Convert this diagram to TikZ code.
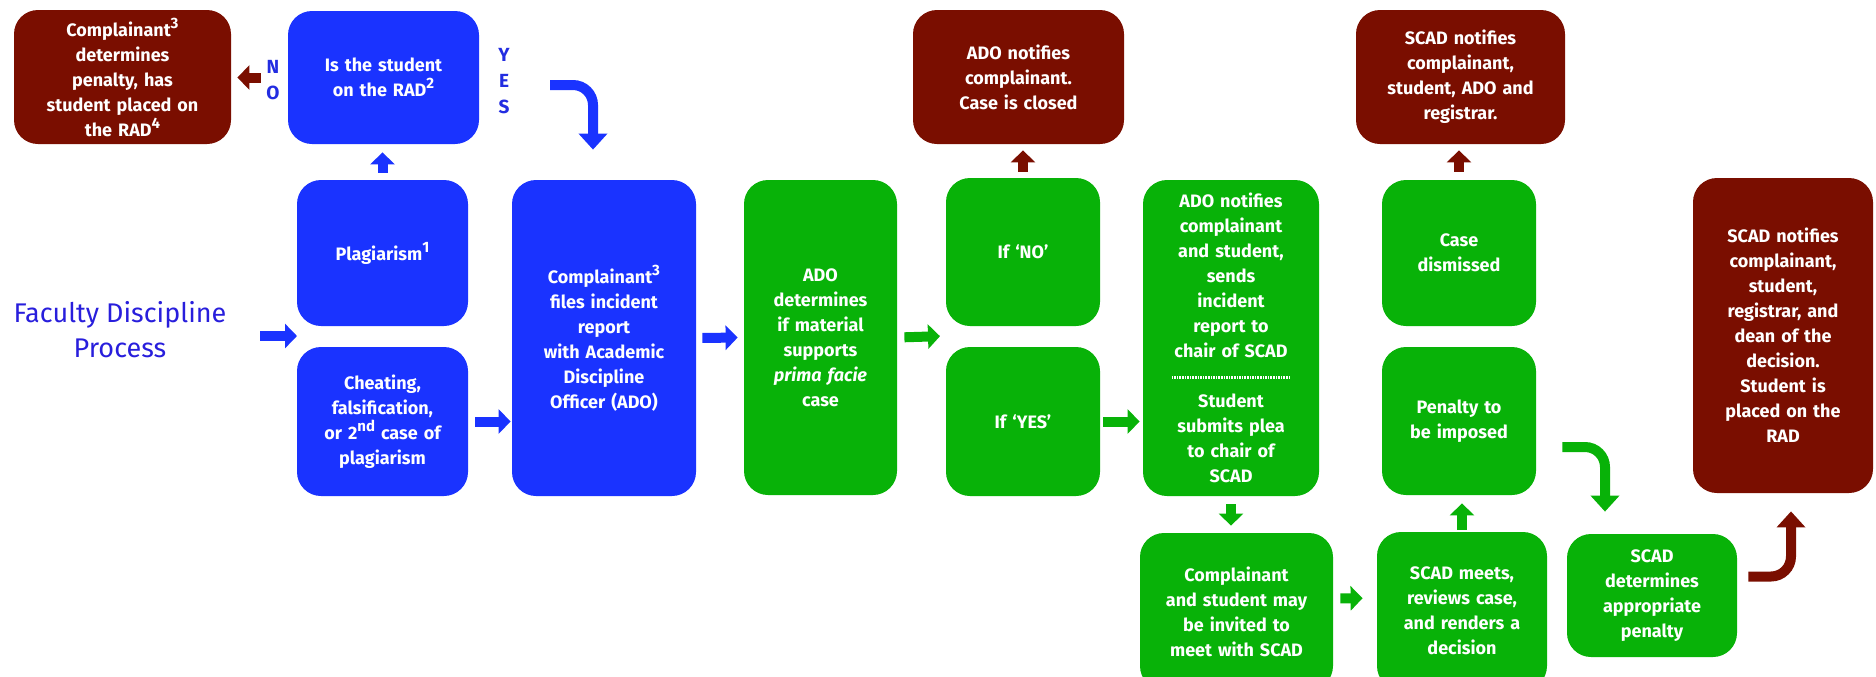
\documentclass[tikz,border=0pt]{standalone}
\usepackage{fontspec}
\setmainfont{Fira Sans}
\usepackage{xcolor}
\usetikzlibrary{arrows.meta}
\definecolor{procblue}{RGB}{26,51,255}
\definecolor{procgreen}{RGB}{8,178,8}
\definecolor{procbrown}{RGB}{122,14,0}
\definecolor{titleblue}{RGB}{40,30,220}
\definecolor{labelblue}{RGB}{35,45,225}
\tikzset{
    >={Triangle[length=6pt, width=12pt]} % Default arrow tip
}
\tikzstyle{procbox}=[
    rectangle,
    rounded corners = 12pt,
    text = white,
    align = center,
    inner sep = 0pt,
    font = \fontsize{9}{12.5}\selectfont\bfseries
]
\tikzstyle{bluebox}=[procbox, fill = procblue]
\tikzstyle{greenbox}=[procbox, fill = procgreen]
\tikzstyle{brownbox}=[procbox, fill = procbrown]
\tikzstyle{answer}=[
    text = labelblue,
    align = center,
    inner sep = 0pt,
    font = \fontsize{9.5}{13}\selectfont\bfseries
]
\tikzstyle{flowarrow}=[->, line width = 5pt]
\tikzstyle{turnarrow}=[
    flowarrow,
    rounded corners = 10pt,
    >={Triangle[length=8pt, width=14pt]}
]
% footnote marks, set large as in the handout
\newcommand{\refmark}[1]{\raisebox{4pt}{\fontsize{7.5}{7.5}\selectfont #1}}
% dotted rule between the two parts of the plea box
\newcommand{\plealine}{\makebox[60pt]{\leaders\hbox to 1.3pt{\hss\rule[2pt]{0.8pt}{1.2pt}\hss}\hfill}}

\begin{document}
\begin{tikzpicture}[x=0.5pt, y=-0.5pt]
    \useasboundingbox (0, 0) rectangle (1876, 676);

    \node [text = titleblue, align = center, font = \fontsize{13.5}{17.5}\selectfont] (title) at (120, 330) {Faculty Discipline\\Process};

    \node [brownbox, minimum width = 108.5pt, minimum height = 67pt, text width = 104pt] (selfpen) at (122.5, 77) {Complainant\refmark{3}\\determines\\penalty, has\\student placed on\\the RAD\refmark{4}};
    \node [bluebox, minimum width = 95.5pt, minimum height = 66.5pt, text width = 90pt] (onrad) at (383.5, 77.5) {Is the student\\on the RAD\refmark{2}};
    \node [answer] (nolabel) at (273, 80) {N\\O};
    \node [answer] (yeslabel) at (504, 81) {Y\\E\\S};

    \node [bluebox, minimum width = 85.5pt, minimum height = 73pt, text width = 80pt] (plag) at (382.5, 253) {Plagiarism\refmark{1}};
    \node [bluebox, minimum width = 85.5pt, minimum height = 74.5pt, text width = 82pt] (cheat) at (382.5, 421.5) {Cheating,\\falsification,\\or 2\refmark{nd} case of\\plagiarism};
    \node [bluebox, minimum width = 92pt, minimum height = 158pt, text width = 88pt] (files) at (604, 338) {Complainant\refmark{3}\\files incident\\report\\with Academic\\Discipline\\Officer (ADO)};

    \node [greenbox, minimum width = 76.5pt, minimum height = 157.5pt, text width = 72pt] (primafacie) at (820.5, 337.5) {ADO\\determines\\if material\\supports\\\textit{prima facie}\\case};
    \node [greenbox, minimum width = 77pt, minimum height = 74pt, text width = 70pt] (ifno) at (1023, 252) {If `NO'};
    \node [greenbox, minimum width = 77pt, minimum height = 74.5pt, text width = 70pt] (ifyes) at (1023, 421.5) {If `YES'};
    \node [brownbox, minimum width = 105.5pt, minimum height = 67pt, text width = 100pt] (closed) at (1018.5, 77) {ADO notifies\\complainant.\\Case is closed};

    \node [greenbox, minimum width = 88pt, minimum height = 158pt, text width = 84pt] (notify) at (1231, 338) {ADO notifies\\complainant\\and student,\\sends\\incident\\report to\\chair of SCAD\\\plealine\\Student\\submits plea\\to chair of\\SCAD};
    \node [greenbox, minimum width = 96.5pt, minimum height = 78.5pt, text width = 92pt] (meet) at (1236.5, 611.5) {Complainant\\and student may\\be invited to\\meet with SCAD};
    \node [greenbox, minimum width = 85pt, minimum height = 79pt, text width = 82pt] (hearing) at (1462, 611) {SCAD meets,\\reviews case,\\and renders a\\decision};

    \node [greenbox, minimum width = 77pt, minimum height = 74pt, text width = 72pt] (impose) at (1459, 421) {Penalty to\\be imposed};
    \node [greenbox, minimum width = 77pt, minimum height = 73pt, text width = 72pt] (dismiss) at (1459, 253) {Case\\dismissed};
    \node [brownbox, minimum width = 104.5pt, minimum height = 67pt, text width = 100pt] (scadnote) at (1460.5, 77) {SCAD notifies\\complainant,\\student, ADO and\\registrar.};
    \node [greenbox, minimum width = 85pt, minimum height = 61.5pt, text width = 80pt] (sanction) at (1652, 595.5) {SCAD\\determines\\appropriate\\penalty};
    \node [brownbox, minimum width = 90pt, minimum height = 157.5pt, text width = 86pt] (final) at (1783, 335.5) {SCAD notifies\\complainant,\\student,\\registrar, and\\dean of the\\decision.\\Student is\\placed on the\\RAD};

    \coordinate (gap1) at (297, 336);
    \coordinate (gap2) at (946, 336);
    \coordinate (yesstart) at (550, 85);

    \draw [flowarrow, procblue, shorten <= 70pt] (title.center |- gap1) -- (gap1);
    \draw [flowarrow, procblue, shorten <= 3.5pt, shorten >= 0.5pt] (cheat.east) -- (cheat.east -| files.west);
    \draw [flowarrow, procblue, shorten <= 3.5pt, shorten >= 4pt] (plag.north) -- (plag.north |- onrad.south);
    \draw [flowarrow, procbrown, shorten <= 13.5pt, shorten >= 3pt] (onrad.west) -- (onrad.west -| selfpen.east);
    \draw [turnarrow, procblue, shorten >= 15pt] (yesstart) -| ([xshift = -5.5pt]files.north);
    \draw [flowarrow, procblue, shorten <= 3pt, shorten >= 3pt] (files.east) -- (primafacie.west);
    \draw [flowarrow, procgreen, shorten <= 3.5pt, shorten >= 3pt] (primafacie.east) -- (gap2);
    \draw [flowarrow, procbrown, shorten <= 3pt, shorten >= 3pt] (ifno.north) -- (ifno.north |- closed.south);
    \draw [flowarrow, procgreen, shorten <= 1.5pt, shorten >= 1.5pt] (ifyes.east) -- (ifyes.east -| notify.west);
    \draw [flowarrow, procgreen, shorten <= 4pt, shorten >= 3.5pt] (notify.south) -- (notify.south |- meet.north);
    \draw [flowarrow, procgreen, shorten <= 3.5pt, shorten >= 7pt] ([yshift = 6.5pt]meet.east) -- ([yshift = 6.5pt]hearing.west);
    \draw [flowarrow, procgreen, shorten <= 1pt, shorten >= 4pt] (hearing.north) -- (hearing.north |- impose.south);
    \draw [flowarrow, procbrown, shorten <= 4pt, shorten >= 3pt] (dismiss.north) -- (dismiss.north |- scadnote.south);
    \draw [turnarrow, procgreen, shorten <= 13pt, shorten >= 11pt] ([yshift = -13pt]impose.east) -| ([xshift = -23.5pt]sanction.north);
    \draw [turnarrow, procbrown, shorten <= 5.5pt, shorten >= 9pt] ([yshift = 9.5pt]sanction.east) -| ([xshift = 4pt]final.south);
\end{tikzpicture}
\end{document}
